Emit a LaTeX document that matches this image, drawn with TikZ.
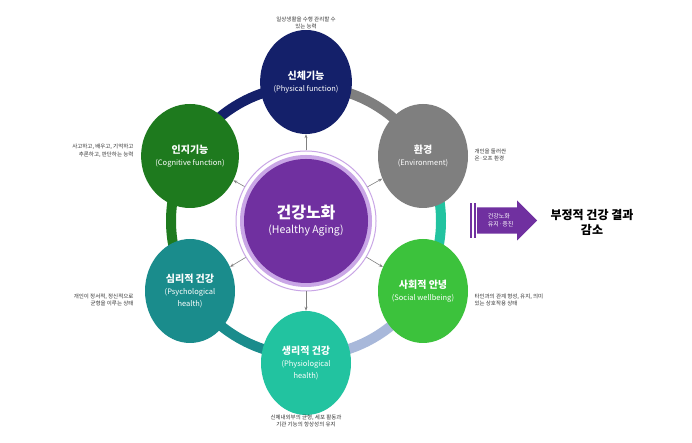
\documentclass[tikz,border=0pt]{standalone}
\usepackage{fontspec}
\setmainfont{Noto Sans CJK KR}
\usetikzlibrary{shapes.arrows,shapes.geometric,arrows.meta,calc}
\definecolor{navy}{HTML}{14206A}
\definecolor{envgray}{HTML}{7F7F7F}
\definecolor{cogg}{HTML}{1E7A1E}
\definecolor{psyt}{HTML}{1A8C8C}
\definecolor{mint}{HTML}{22C3A0}
\definecolor{lime}{HTML}{3CC23C}
\definecolor{lblue}{HTML}{A8B8DA}
\definecolor{purp}{HTML}{7030A0}
\definecolor{lpurp}{HTML}{C9A6E6}
\begin{document}
\begin{tikzpicture}[x=1pt,y=1pt,
  sat/.style={ellipse,minimum width=90pt,minimum height=104pt,inner sep=0pt,text=white,align=center,font=\fontsize{10}{12}\selectfont},
  sub/.style={},
  desc/.style={font=\fontsize{5.5}{7.5}\selectfont,text=black!80},
  spoke/.style={draw=gray,line width=0.6pt,-{Stealth[length=4pt]}},
  ring/.style={line width=10pt}]
\useasboundingbox (0,0) rectangle (692,443);
\fill[white] (0,0) rectangle (692,443);
\coordinate (c) at (306,222);
\draw[ring,envgray] (c) ++(90:135) arc (90:30:135);
\draw[ring,mint] (c) ++(30:135) arc (30:-30:135);
\draw[ring,lblue] (c) ++(-30:135) arc (-30:-90:135);
\draw[ring,psyt] (c) ++(-90:135) arc (-90:-150:135);
\draw[ring,cogg] (c) ++(-150:135) arc (-150:-210:135);
\draw[ring,navy] (c) ++(150:135) arc (150:90:135);
\node[circle,fill=white,draw=lpurp,line width=1pt,minimum size=140pt] (halo) at (c) {};
\node[circle,fill=lpurp,minimum size=132pt] at (c) {};
\node[circle,fill=purp,minimum size=124pt,text=white,align=center,inner sep=0pt] (center) at (c)
  {{\bfseries\fontsize{16}{19}\selectfont 건강노화}\\[3pt]{\fontsize{10.5}{12}\selectfont (Healthy Aging)}};
\node[sat,fill=navy] (phys) at (306,361) {\textbf{신체기능}\\{\fontsize{7.5}{9}\selectfont(Physical function)}};
\node[sat,fill=envgray] (env) at (423,287) {\textbf{환경}\\{\fontsize{7.5}{9}\selectfont(Environment)}};
\node[sat,fill=lime] (soc) at (423,152) {\textbf{사회적 안녕}\\{\fontsize{7.5}{9}\selectfont(Social wellbeing)}};
\node[sat,fill=mint] (phy) at (306,80) {\textbf{생리적 건강}\\{\fontsize{7.5}{9}\selectfont(Physiological}\\{\fontsize{7.5}{9}\selectfont health)}};
\node[sat,fill=psyt] (psy) at (190,152) {\textbf{심리적 건강}\\{\fontsize{7.5}{9}\selectfont(Psychological}\\{\fontsize{7.5}{9}\selectfont health)}};
\node[sat,fill=cogg] (cog) at (190,287) {\textbf{인지기능}\\{\fontsize{7.5}{9}\selectfont(Cognitive function)}};
\foreach \t in {phys,env,soc,phy,psy,cog} \draw[spoke] (halo) -- (\t);
\node[desc,align=center] (dphys) at (306,420) {일상생활을 수행 관리할 수\\있는 능력};
\node[desc,align=right,anchor=east] (dcog) at (137,292) {사고하고, 배우고, 기억하고\\추론하고, 판단하는 능력};
\node[desc,align=left,anchor=west] (denv) at (471,288) {개인을 둘러싼\\온·오프 환경};
\node[desc,align=right,anchor=east] (dpsy) at (137,143) {개인이 정서적, 정신적으로\\균형을 이루는 상태};
\node[desc,align=left,anchor=west] (dsoc) at (471,143) {타인과의 관계 형성, 유지, 의미\\있는 상호작용 상태};
\node[desc,align=center] (dphy) at (306,22) {신체내외부의 균형, 세포 활동과\\기관 기능의 항상성의 유지};
\fill[purp] (470,205) rectangle (472,240);
\fill[purp] (474,205) rectangle (476,240);
\node[single arrow,fill=purp,minimum height=60pt,minimum width=40pt,single arrow head extend=4pt,inner sep=1pt,anchor=west,text=white,align=left,font=\fontsize{6}{7.5}\selectfont] (arr) at (477,222.5) {건강노화\\유지·증진\hspace{14pt}};
\node[font=\bfseries\fontsize{12}{15}\selectfont,align=center] (res) at (592,221) {부정적 건강 결과\\감소};
\end{tikzpicture}
\end{document}
